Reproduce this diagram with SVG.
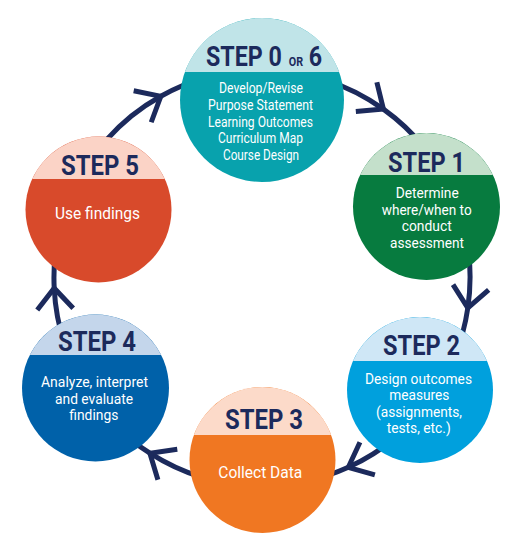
<svg xmlns="http://www.w3.org/2000/svg" width="529" height="550" viewBox="0 0 529 550">
  <defs>
    <marker id="chev" markerUnits="userSpaceOnUse" orient="auto" refX="0" refY="0" markerWidth="40" markerHeight="40" overflow="visible">
      <path d="M-21,-18 L0,0 L-21,18" fill="none" stroke="#1c2a5c" stroke-width="5" stroke-linejoin="miter"/>
    </marker>
  </defs>
  <style>
    .conn { fill: none; stroke: #1c2a5c; stroke-width: 5; marker-mid: url(#chev); }
    .hd { font-family: Roboto, "Liberation Sans", sans-serif; font-weight: 700; font-size: 28px; fill: #1c2a5c; }
    .hdsm { font-family: Roboto, "Liberation Sans", sans-serif; font-weight: 700; font-size: 13px; fill: #1c2a5c; }
    .bd { font-family: Roboto, "Liberation Sans", sans-serif; font-size: 14px; fill: #ffffff; }
    .bdl { font-family: Roboto, "Liberation Sans", sans-serif; font-size: 17px; fill: #ffffff; }
  </style>
  <rect width="529" height="550" fill="#ffffff"/>

  <g id="connectors">
    <path class="conn" d="M262,70 A208,208 0 0 1 383.4,109.1 A208,208 0 0 1 452.5,194.4"/>
    <path class="conn" d="M452.5,194.4 A208,208 0 0 1 467.8,308.0 A208,208 0 0 1 431.7,398.2"/>
    <path class="conn" d="M431.7,398.2 A208,208 0 0 1 348.3,467.3 A208,208 0 0 1 262,486"/>
    <path class="conn" d="M262,486 A208,208 0 0 1 149.9,453.2 A208,208 0 0 1 88.5,392.8"/>
    <path class="conn" d="M88.5,392.8 A208,208 0 0 1 54.2,288.2 A208,208 0 0 1 69.8,198.4"/>
    <path class="conn" d="M69.8,198.4 A208,208 0 0 1 160.8,96.3 A208,208 0 0 1 262,70"/>
  </g>

  <g id="step0">
    <circle cx="262" cy="100" r="82" fill="#08a2ad"/>
    <path d="M184.9,72 A82,82 0 0 1 339.1,72 Z" fill="#c0e4e8"/>
    <text class="hd" transform="translate(206,65.5) scale(0.83,1)" x="0" y="0">STEP 0<tspan class="hdsm" dx="8.4">OR</tspan><tspan dx="6.8">6</tspan></text>
    <text class="bd" x="219" y="93.3" textLength="84" lengthAdjust="spacingAndGlyphs">Develop/Revise</text>
    <text class="bd" x="208" y="110" textLength="105" lengthAdjust="spacingAndGlyphs">Purpose Statement</text>
    <text class="bd" x="208" y="126.6" textLength="105" lengthAdjust="spacingAndGlyphs">Learning Outcomes</text>
    <text class="bd" x="218" y="143.2" textLength="85" lengthAdjust="spacingAndGlyphs">Curriculum Map</text>
    <text class="bd" x="223" y="159.8" textLength="76" lengthAdjust="spacingAndGlyphs">Course Design</text>
  </g>

  <g id="step1">
    <circle cx="426.5" cy="206.5" r="73.5" fill="#077b3f"/>
    <path d="M360.1,175 A73.5,73.5 0 0 1 492.9,175 Z" fill="#c4e0cb"/>
    <text class="hd" x="388" y="171.7" textLength="77" lengthAdjust="spacingAndGlyphs">STEP 1</text>
    <text class="bd" x="395.7" y="198.3" textLength="63" lengthAdjust="spacingAndGlyphs">Determine</text>
    <text class="bd" x="381.7" y="214.7" textLength="90" lengthAdjust="spacingAndGlyphs">where/when to</text>
    <text class="bd" x="401.7" y="231.1" textLength="50" lengthAdjust="spacingAndGlyphs">conduct</text>
    <text class="bd" x="390" y="247.5" textLength="74" lengthAdjust="spacingAndGlyphs">assessment</text>
  </g>

  <g id="step2">
    <circle cx="420" cy="390" r="73" fill="#00a0dd"/>
    <path d="M353,361 A73,73 0 0 1 487,361 Z" fill="#cfe7f6"/>
    <text class="hd" x="383" y="355" textLength="77" lengthAdjust="spacingAndGlyphs">STEP 2</text>
    <text class="bd" x="365" y="384" textLength="107" lengthAdjust="spacingAndGlyphs">Design outcomes</text>
    <text class="bd" x="389.3" y="400.3" textLength="60" lengthAdjust="spacingAndGlyphs">measures</text>
    <text class="bd" x="376" y="416.6" textLength="86" lengthAdjust="spacingAndGlyphs">(assignments,</text>
    <text class="bd" x="386.7" y="432.9" textLength="64" lengthAdjust="spacingAndGlyphs">tests, etc.)</text>
  </g>

  <g id="step3">
    <circle cx="262.5" cy="460" r="73" fill="#f07722"/>
    <path d="M193.9,435 A73,73 0 0 1 331.1,435 Z" fill="#fcdac9"/>
    <text class="hd" x="225" y="429.3" textLength="78" lengthAdjust="spacingAndGlyphs">STEP 3</text>
    <text class="bdl" x="218.3" y="478.3" textLength="84" lengthAdjust="spacingAndGlyphs">Collect Data</text>
  </g>

  <g id="step4">
    <circle cx="95.5" cy="388" r="73.5" fill="#0061a9"/>
    <path d="M29.8,355 A73.5,73.5 0 0 1 161.2,355 Z" fill="#c4d6eb"/>
    <text class="hd" x="58" y="350.7" textLength="78" lengthAdjust="spacingAndGlyphs">STEP 4</text>
    <text class="bd" x="41" y="387.3" textLength="107" lengthAdjust="spacingAndGlyphs">Analyze, interpret</text>
    <text class="bd" x="55" y="403.8" textLength="78" lengthAdjust="spacingAndGlyphs">and evaluate</text>
    <text class="bd" x="69.3" y="420.3" textLength="49" lengthAdjust="spacingAndGlyphs">findings</text>
  </g>

  <g id="step5">
    <circle cx="98.5" cy="209.5" r="73" fill="#d84a2b"/>
    <path d="M32.2,179 A73,73 0 0 1 164.8,179 Z" fill="#fbd3c6"/>
    <text class="hd" x="61" y="175" textLength="78" lengthAdjust="spacingAndGlyphs">STEP 5</text>
    <text class="bdl" x="55" y="219.3" textLength="85" lengthAdjust="spacingAndGlyphs">Use findings</text>
  </g>
</svg>
